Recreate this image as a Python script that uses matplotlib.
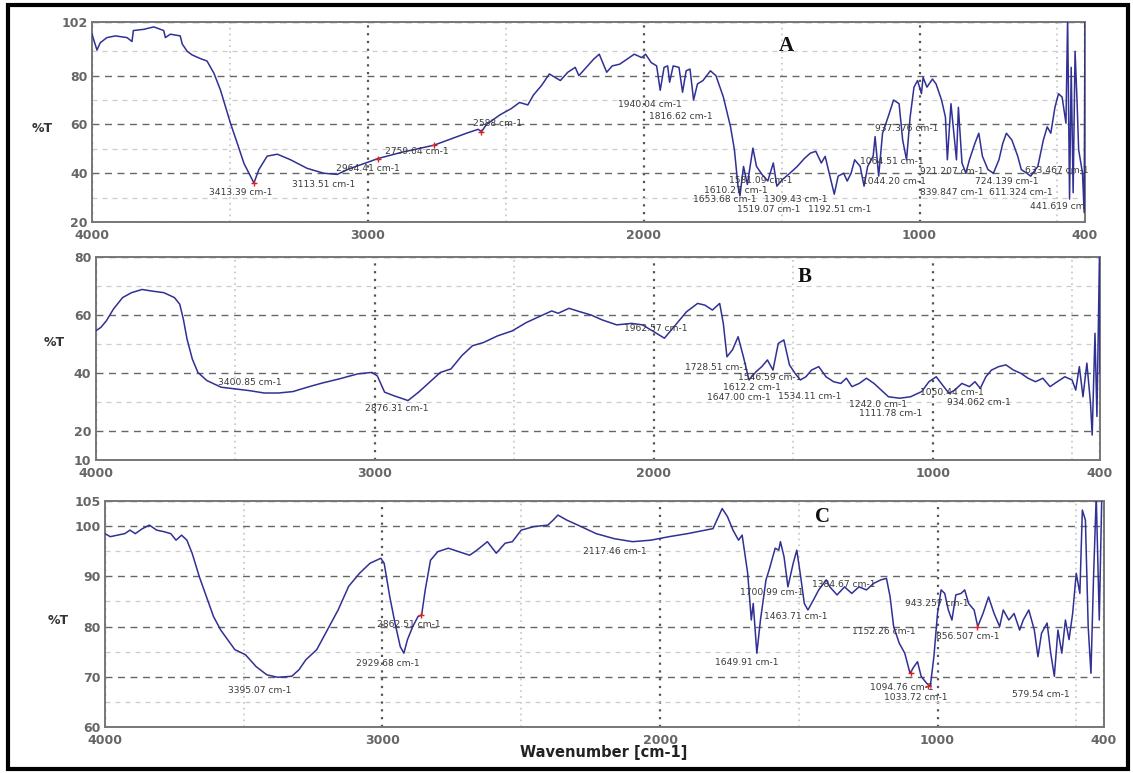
import matplotlib
matplotlib.use('Agg')
import matplotlib.pyplot as plt
from matplotlib.patches import Rectangle

# ---------------- data ----------------
# Panel A spectrum (wavenumber cm-1, %T)
wn_a = [4000, 3982, 3970, 3946, 3915, 3873, 3855, 3850, 3812, 3776, 3740, 3734, 3716, 3680,
        3673, 3655, 3637, 3607, 3583, 3558, 3534, 3498, 3474, 3449, 3431, 3413, 3395, 3365,
        3328, 3280, 3220, 3160, 3111, 3074, 3038, 3000, 2964, 2880, 2820, 2760, 2700, 2640,
        2600, 2588, 2570, 2520, 2480, 2450, 2420, 2400, 2370, 2342, 2302, 2275, 2248, 2235,
        2208, 2181, 2161, 2134, 2114, 2087, 2060, 2034, 2007, 1993, 1973, 1953, 1940, 1926,
        1913, 1906, 1893, 1872, 1859, 1846, 1832, 1819, 1805, 1785, 1758, 1738, 1711, 1685,
        1671, 1658, 1651, 1638, 1624, 1604, 1591, 1571, 1550, 1530, 1517, 1497, 1470, 1443,
        1416, 1396, 1376, 1356, 1342, 1322, 1309, 1295, 1275, 1262, 1248, 1235, 1215, 1201,
        1188, 1168, 1161, 1148, 1134, 1114, 1094, 1074, 1061, 1047, 1034, 1020, 1007, 993,
        987, 973, 953, 940, 920, 906, 899, 886, 866, 859, 846, 832, 819, 799, 785, 772, 752,
        732, 712, 698, 685, 665, 644, 631, 611, 597, 571, 551, 537, 524, 509, 496, 483, 469,
        463, 456, 450, 443, 436, 429, 423, 409, 403, 400]
t_a = [97, 90.5, 93.5, 95.6, 96.3, 95.6, 94, 98.5, 99, 100, 98.5, 95.6, 97, 96.3,
       93, 90, 88.5, 87, 86, 81, 74, 60.5, 52.5, 44, 40, 36, 41.5, 47,
       47.8, 45.5, 42, 40, 39.5, 41.5, 43, 44.5, 46, 48.5, 50, 51.5, 54, 56.5,
       58, 57, 60, 64, 66.5, 69, 68, 72, 76, 80.7, 78, 81.4, 83.4, 80,
       83.4, 86.8, 88.8, 81.4, 84, 84.7, 86.8, 88.8, 87.4, 88.8, 85.4, 84, 74, 83.4,
       84, 77.3, 84, 83.4, 73.2, 82, 82.7, 70, 76.6, 78, 82, 80, 71.2, 59,
       49.6, 34.7, 30.7, 42.8, 35.4, 50.3, 42.8, 39.5, 36.8, 44.2, 34.7, 37.4, 40, 42.8,
       46.2, 48.2, 49, 44.2, 46.9, 37.4, 31.4, 38.8, 40, 36.8, 40, 45.5, 42.8, 34.7,
       42.8, 47, 55, 38.8, 56.4, 63, 70, 68.5, 53.6, 45.5, 63, 75.3, 78, 72.6,
       79.3, 75.3, 78.6, 76.6, 70, 63, 45.5, 68.5, 45.5, 67, 44.2, 40, 45.5, 52.3, 56.4, 47, 41.5,
       40, 45.5, 52.3, 56.4, 53.6, 47, 41.5, 40, 38.8, 42.8, 53.6, 59, 56.4, 67, 72.6, 71.2, 60.5,
       104, 29.4, 83.4, 32, 90, 70, 49.6, 40, 24, 104]

# Panel B spectrum
wn_b = [4000, 3981, 3961, 3936, 3903, 3871, 3833, 3794, 3755, 3717, 3698, 3685, 3672, 3653,
        3633, 3601, 3550, 3498, 3447, 3395, 3344, 3292, 3241, 3189, 3125, 3060, 3009, 2990,
        2964, 2932, 2880, 2842, 2803, 2764, 2726, 2687, 2649, 2610, 2559, 2507, 2456, 2404,
        2365, 2342, 2303, 2263, 2224, 2184, 2132, 2079, 2040, 2000, 1961, 1921, 1882, 1842,
        1816, 1789, 1763, 1750, 1737, 1717, 1697, 1678, 1658, 1632, 1612, 1592, 1572, 1553,
        1533, 1513, 1493, 1474, 1454, 1434, 1408, 1382, 1355, 1329, 1309, 1289, 1263, 1237,
        1210, 1184, 1158, 1118, 1079, 1039, 1013, 987, 960, 941, 921, 895, 868, 848, 829,
        809, 789, 763, 737, 710, 684, 658, 631, 605, 579, 553, 526, 500, 487, 474, 461, 447,
        434, 428, 418, 411, 402, 400]
t_b = [54.5, 55.7, 58, 62, 66, 67.7, 68.8, 68.2, 67.7, 66, 63.7, 58.5, 51.7, 44.8,
       40.2, 37.4, 35.1, 34.5, 33.9, 33.1, 33.1, 33.6, 35.1, 36.5, 38, 39.7, 40.2, 39,
       33.4, 32.2, 30.5, 33.4, 36.8, 40.2, 41.4, 46, 49.4, 50.5, 52.8, 54.5, 57.4, 59.7,
       61.4, 60.6, 62.3, 61.1, 60, 58.3, 56.6, 57.1, 56.6, 54.3, 52, 56.6, 61.1, 64,
       63.4, 61.7, 64, 57.1, 45.6, 48, 52.5, 45.6, 37.6, 40.5, 42.2, 44.5, 41, 50.2,
       51.4, 42.8, 39.9, 37.6, 38.7, 41, 42.2, 38.7, 37, 36.4, 38.2, 35.3, 36.4, 38.2,
       36.4, 34.1, 31.8, 31.3, 31.8, 33.6, 37, 38.7, 35.3, 33, 34.1, 36.4, 35.3, 37, 34.7,
       38.7, 41, 42.2, 42.8, 41, 39.9, 38.2, 37, 38.2, 35.3, 37, 38.7, 37.6, 34.1, 42.2, 31.8, 43.4,
       29.5, 18.6, 53.7, 25, 80, 40]

# Panel C spectrum
wn_c = [4000, 3981, 3955, 3929, 3910, 3891, 3865, 3840, 3814, 3788, 3763, 3744, 3724, 3705,
        3686, 3660, 3635, 3609, 3583, 3558, 3532, 3494, 3455, 3417, 3378, 3327, 3301, 3276,
        3237, 3199, 3160, 3122, 3083, 3045, 3006, 2994, 2974, 2955, 2936, 2923, 2910, 2891,
        2872, 2859, 2846, 2827, 2801, 2763, 2724, 2686, 2660, 2622, 2590, 2558, 2532, 2500,
        2455, 2404, 2385, 2368, 2336, 2296, 2230, 2165, 2099, 2033, 1967, 1901, 1836, 1809,
        1789, 1776, 1757, 1737, 1717, 1704, 1684, 1671, 1664, 1651, 1638, 1618, 1605, 1585,
        1572, 1566, 1553, 1539, 1520, 1507, 1493, 1480, 1467, 1447, 1428, 1401, 1388, 1362,
        1335, 1309, 1283, 1256, 1230, 1204, 1184, 1171, 1158, 1138, 1118, 1099, 1085, 1072,
        1059, 1039, 1026, 1013, 1000, 987, 974, 961, 948, 934, 915, 902, 888, 868, 855, 836,
        816, 796, 776, 763, 743, 724, 704, 691, 671, 651, 638, 625, 605, 592, 579, 566, 552,
        539, 526, 513, 500, 487, 478, 467, 457, 447, 438, 428, 417, 408, 400]
t_c = [98.5, 97.9, 98.2, 98.5, 99.2, 98.5, 99.5, 100.2, 99.2, 98.9, 98.5, 97.2, 98.2, 97.2,
       94.6, 89.9, 86, 82, 79.3, 77.4, 75.4, 74.4, 72, 70.4, 69.9, 70.1, 71.4, 73.4,
       75.4, 79.3, 83.3, 88, 90.6, 92.6, 93.6, 92.6, 86, 80.7, 76, 74.7, 77.4, 80,
       82, 82.3, 87.3, 93.2, 94.9, 95.6, 94.9, 94.2, 95.2, 96.9, 94.6, 96.6, 96.9, 99.2,
       99.9, 100.2, 101.2, 102.2, 101.2, 100.2, 98.5, 97.5, 96.9, 97.2, 97.9, 98.5, 99.2, 99.5,
       101.9, 103.5, 101.9, 99.2, 97.2, 98.2, 90.6, 81.3, 84.6, 74.7, 81.3, 89.3, 91.6, 95.6,
       95.2, 96.9, 93.9, 87.9, 92.6, 95.2, 89.9, 84.6, 83.3, 85.3, 87.3, 89.3, 87.9, 86.3,
       87.9, 86.6, 87.9, 87.3, 88.6, 89.3, 89.6, 86, 80, 76.7, 74.7, 70.7, 72, 73,
       70.1, 68.7, 68.1, 74, 82.6, 87.3, 86.6, 83.3, 81.3, 86.3, 86.6, 87.3, 84.6, 83.3, 80, 82.6,
       85.9, 82.6, 80, 83.3, 81.3, 82.6, 79.3, 81.3, 83.3, 79.3, 74, 78.7, 80.7, 74.7, 70.1, 79.3, 74.7,
       81.3, 77.4, 82.6, 90.6, 86.6, 103.2, 101.2, 80, 70.7, 89.3, 106, 81.3, 106, 106]

# Peak annotations: (text, wavenumber, %T) - text anchor in data units
labels_a = [("3413.39 cm-1", 3576, 32.2), ("3113.51 cm-1", 3274, 35.4),
            ("2964.41 cm-1", 3117, 42.1), ("2759.64 cm-1", 2938, 48.7),
            ("2588 cm-1", 2619, 60.2), ("1940.04 cm-1", 2094, 68.2),
            ("1816.62 cm-1", 1980, 63.1), ("1610.27 cm-1", 1780, 33.0),
            ("1581.09 cm-1", 1690, 37.2), ("1653.68 cm-1", 1820, 29.3),
            ("1519.07 cm-1", 1662, 25.3), ("1309.43 cm-1", 1565, 29.3),
            ("1192.51 cm-1", 1405, 25.3), ("1064.51 cm-1", 1215, 45),
            ("1044.20 cm-1", 1208, 36.4), ("937.376 cm-1", 1161, 58.4),
            ("921.207 cm-1", 1000, 40.8), ("839.847 cm-1", 1000, 32.2),
            ("724.139 cm-1", 799, 36.5), ("611.324 cm-1", 748, 32.2),
            ("633.467 cm-1", 618, 41.0), ("441.619 cm", 598, 26.5)]
labels_b = [("3400.85 cm-1", 3562, 36.8), ("2876.31 cm-1", 3035, 27.7),
            ("1962.57 cm-1", 2105, 55.4), ("1728.51 cm-1", 1888, 41.8),
            ("1546.59 cm-1", 1697, 38.3), ("1612.2 cm-1", 1750, 35.0),
            ("1647.00 cm-1", 1810, 31.6), ("1534.11 cm-1", 1555, 31.9),
            ("1242.0 cm-1", 1300, 29.3), ("1050.44 cm-1", 1046, 33.4),
            ("934.062 cm-1", 947, 29.8), ("1111.78 cm-1", 1263, 25.9)]
labels_c = [("3395.07 cm-1", 3558, 67.3), ("2862.51 cm-1", 3019, 80.5),
            ("2929.68 cm-1", 3096, 72.7), ("2117.46 cm-1", 2276, 94.9),
            ("1700.99 cm-1", 1712, 86.8), ("1384.67 cm-1", 1452, 88.3),
            ("1463.71 cm-1", 1625, 82), ("1649.91 cm-1", 1803, 72.8),
            ("1152.26 cm-1", 1309, 79), ("943.257 cm-1", 1118, 84.6),
            ("856.507 cm-1", 1006, 78), ("1094.76 cm-1", 1243, 67.8),
            ("1033.72 cm-1", 1191, 65.9), ("579.54 cm-1", 730, 66.4)]

# red peak markers (wavenumber, %T)
red_a = [(3413, 36), (2964, 46), (2759, 51.5), (2588, 57)]
red_c = [(2862, 82.3), (856, 80), (1094, 70.7), (1033, 68.1)]

x_major = [4000, 3000, 2000, 1000, 400]
x_minor = [3500, 2500, 1500, 500]
x_ticklabels = ["4000", "3000", "2000", "1000", "400"]

ya_major = [20, 40, 60, 80, 102]
ya_minor = [30, 50, 70, 90]
yb_major = [10, 20, 40, 60, 80]
yb_minor = [30, 50, 70]
yc_major = [60, 70, 80, 90, 100, 105]
yc_minor = [65, 75, 85, 95]

# ---------------- figure ----------------
W, H = 1133, 773
fig = plt.figure(figsize=(W / 100, H / 100), dpi=100)
fig.patch.set_facecolor('white')

def px_rect(x0, y0, x1, y1):
    return [x0 / W, 1 - y1 / H, (x1 - x0) / W, (y1 - y0) / H]

LINE = '#303095'
FONT = 'DejaVu Sans'

def make_panel(rect, wn, t, ylim, ymaj, ymin, labels, letter, letter_pos, reds):
    ax = fig.add_axes(rect)
    ax.plot(wn, t, color=LINE, lw=1.1, zorder=3)
    ax.set_xlim(4000, 400)
    ax.set_ylim(*ylim)
    ax.set_xticks(x_major)
    ax.set_xticklabels(x_ticklabels)
    ax.set_xticks(x_minor, minor=True)
    ax.set_yticks(ymaj)
    ax.set_yticklabels([str(v) for v in ymaj])
    ax.set_yticks(ymin, minor=True)
    ax.set_axisbelow(True)
    ax.grid(True, which='major', axis='x', color='#555555', lw=1.6, ls=(0, (1, 2.5)))
    ax.grid(True, which='minor', axis='x', color='#c4c4c4', lw=1.2, ls=(0, (1, 2.5)))
    ax.grid(True, which='major', axis='y', color='#666666', lw=1.0, ls=(0, (5, 4)))
    ax.grid(True, which='minor', axis='y', color='#cccccc', lw=0.9, ls=(0, (4, 4)))
    ax.tick_params(which='both', length=0)
    ax.tick_params(axis='x', pad=5)
    ax.tick_params(axis='y', pad=3)
    for lab in ax.get_xticklabels() + ax.get_yticklabels():
        lab.set_fontfamily(FONT)
        lab.set_fontsize(9)
        lab.set_fontweight('bold')
        lab.set_color('#666666')
    for sp in ax.spines.values():
        sp.set_color('#777777')
        sp.set_linewidth(1.4)
    for txt, x, y in labels:
        ax.text(x, y, txt, fontsize=6.6, family=FONT, color='#3a3a3a',
                ha='left', va='center', zorder=4)
    for x, y in reds:
        ax.plot([x], [y], marker='+', color='#dd2222', ms=4, mew=1, zorder=5)
    ax.text(letter_pos[0], letter_pos[1], letter, fontsize=15, fontweight='bold',
            family='Liberation Serif', ha='center', va='center', color='#111111', zorder=5)
    return ax

axA = make_panel(px_rect(92, 22, 1085, 222), wn_a, t_a, (20, 102), ya_major, ya_minor,
                 labels_a, 'A', (1483, 92.2), red_a)
axB = make_panel(px_rect(95.5, 257, 1100, 460), wn_b, t_b, (10, 80), yb_major, yb_minor,
                 labels_b, 'B', (1460, 73.2), [])
axC = make_panel(px_rect(105, 501, 1104, 727), wn_c, t_c, (60, 105), yc_major, yc_minor,
                 labels_c, 'C', (1414, 101.9), red_c)

# %T labels
for (px, py) in [(42, 128), (54, 342), (58, 620)]:
    fig.text(px / W, 1 - py / H, '%T', fontsize=9, fontweight='bold', family=FONT,
             color='#333333', ha='center', va='center')

fig.text(604 / W, 1 - 753 / H, 'Wavenumber [cm-1]', fontsize=10.5, fontweight='bold',
         family=FONT, color='#222222', ha='center', va='center')

# outer black frame
fig.add_artist(Rectangle((8 / W, 4 / H), (1128 - 8) / W, (768 - 4) / H,
                         transform=fig.transFigure, fill=False, ec='black', lw=3))

fig.savefig('out.png', dpi=100, facecolor='white')
